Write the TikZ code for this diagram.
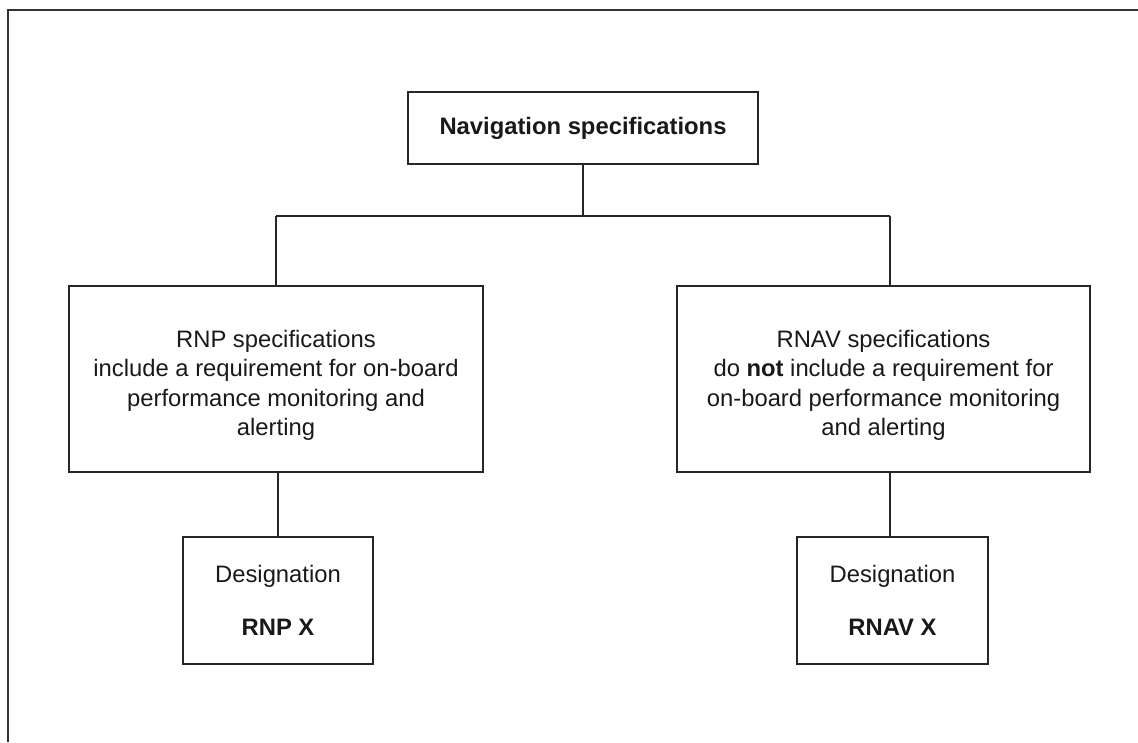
\documentclass[tikz,border=0pt]{standalone}
\usepackage{fontspec}
\setmainfont{Liberation Sans}
\begin{document}
\begin{tikzpicture}[x=1pt,y=-1pt,
  boxstyle/.style={draw=black!85, line width=1.2pt, inner sep=0pt, align=center,
    font=\fontsize{23.8}{29.3}\selectfont, text=black!90},
  conn/.style={draw=black!85, line width=1.2pt}]
\useasboundingbox (0,0) rectangle (1138,742);
\draw[line width=1.6pt, black!80] (8,742) -- (8,10) -- (1138,10);
\node[boxstyle, minimum width=350pt, minimum height=72pt] (top) at (583,128) {\textbf{Navigation specifications}};
\node[boxstyle, minimum width=414pt, minimum height=186pt] (left) at (276,379)
  {\rule{0pt}{30pt}RNP specifications\\include a requirement for on-board\\performance monitoring and\\alerting};
\node[boxstyle, minimum width=413pt, minimum height=186pt] (right) at (883.5,379)
  {\rule{0pt}{30pt}RNAV specifications\\do \textbf{not} include a requirement for\\on-board performance monitoring\\and alerting};
\node[boxstyle, minimum width=190pt, minimum height=127pt] (dl) at (278,600.5)
  {Designation\\[24pt]\textbf{RNP X}};
\node[boxstyle, minimum width=191pt, minimum height=127pt] (dr) at (892.5,600.5)
  {Designation\\[24pt]\textbf{RNAV X}};
\coordinate (jm) at (583,216);
\coordinate (jl) at (276,216);
\coordinate (jr) at (890,216);
\draw[conn] (top.south) -- (jm);
\draw[conn] (jl) -- (jr);
\draw[conn] (jl) -- (left.north);
\draw[conn] (jr) -- (jr |- right.north);
\draw[conn] (dl.north |- left.south) -- (dl.north);
\draw[conn] (jr |- right.south) -- (jr |- dr.north);
\end{tikzpicture}
\end{document}
